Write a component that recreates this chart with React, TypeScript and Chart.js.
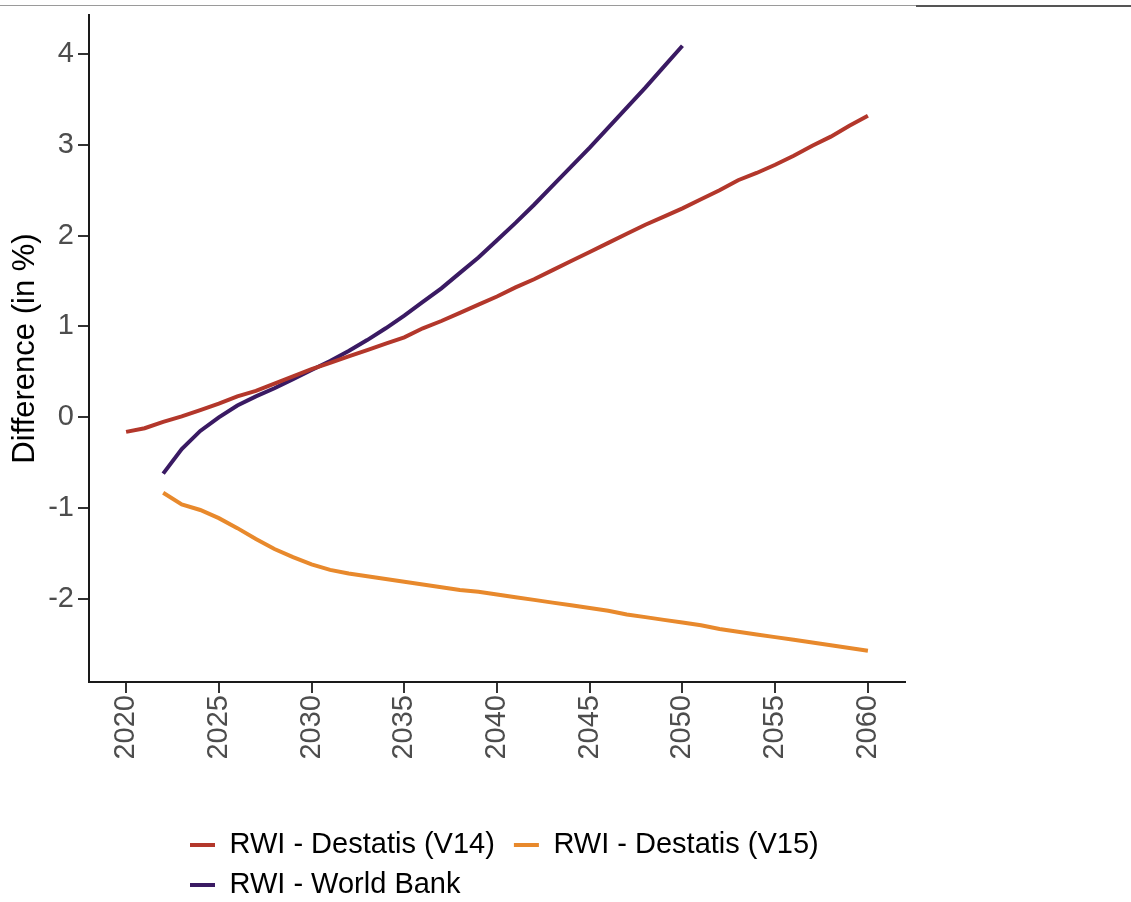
import React, { useEffect, useRef } from 'react';
import Chart from 'chart.js/auto';

const FONT = '"Liberation Sans", Arial, Helvetica, sans-serif';

const seriesLabels = ['RWI - Destatis (V14)', 'RWI - Destatis (V15)', 'RWI - World Bank'];
const seriesColors = ['#B3372B', '#E8892C', '#3A1A63'];

const yearsV14 = [2020, 2021, 2022, 2023, 2024, 2025, 2026, 2027, 2028, 2029, 2030, 2031, 2032, 2033, 2034, 2035, 2036, 2037, 2038, 2039, 2040, 2041, 2042, 2043, 2044, 2045, 2046, 2047, 2048, 2049, 2050, 2051, 2052, 2053, 2054, 2055, 2056, 2057, 2058, 2059, 2060];
const v14Values = [-0.16, -0.12, -0.05, 0.01, 0.08, 0.15, 0.23, 0.29, 0.37, 0.45, 0.53, 0.6, 0.67, 0.74, 0.81, 0.88, 0.98, 1.06, 1.15, 1.24, 1.33, 1.43, 1.52, 1.62, 1.72, 1.82, 1.92, 2.02, 2.12, 2.21, 2.3, 2.4, 2.5, 2.61, 2.69, 2.78, 2.88, 2.99, 3.09, 3.21, 3.32];

const yearsV15 = [2022, 2023, 2024, 2025, 2026, 2027, 2028, 2029, 2030, 2031, 2032, 2033, 2034, 2035, 2036, 2037, 2038, 2039, 2040, 2041, 2042, 2043, 2044, 2045, 2046, 2047, 2048, 2049, 2050, 2051, 2052, 2053, 2054, 2055, 2056, 2057, 2058, 2059, 2060];
const v15Values = [-0.83, -0.96, -1.02, -1.11, -1.22, -1.34, -1.45, -1.54, -1.62, -1.68, -1.72, -1.75, -1.78, -1.81, -1.84, -1.87, -1.9, -1.92, -1.95, -1.98, -2.01, -2.04, -2.07, -2.1, -2.13, -2.17, -2.2, -2.23, -2.26, -2.29, -2.33, -2.36, -2.39, -2.42, -2.45, -2.48, -2.51, -2.54, -2.57];

const yearsWB = [2022, 2023, 2024, 2025, 2026, 2027, 2028, 2029, 2030, 2031, 2032, 2033, 2034, 2035, 2036, 2037, 2038, 2039, 2040, 2041, 2042, 2043, 2044, 2045, 2046, 2047, 2048, 2049, 2050];
const wbValues = [-0.62, -0.35, -0.15, 0.0, 0.13, 0.23, 0.32, 0.42, 0.52, 0.62, 0.73, 0.85, 0.98, 1.12, 1.27, 1.42, 1.59, 1.76, 1.95, 2.14, 2.34, 2.55, 2.76, 2.97, 3.19, 3.41, 3.63, 3.86, 4.09];

const xTickValues = [2020, 2025, 2030, 2035, 2040, 2045, 2050, 2055, 2060];
const yTickValues = [-2, -1, 0, 1, 2, 3, 4];
const xRange = [2018, 2062];
const yRange = [-2.914, 4.429];
const yTitle = 'Difference (in %)';

const toPoints = (xs: number[], ys: number[]) => xs.map((x, i) => ({ x, y: ys[i] }));

const legendPlacer = {
  id: 'legendPlacer',
  beforeDraw(chart: any) {
    const lg = chart.legend;
    if (!lg) return;
    const ca = chart.chartArea;
    lg.left = ca.left + 90;
    lg.right = ca.right;
    lg.top = ca.bottom + 137.5;
  },
};

export default function App() {
  const ref = useRef<HTMLCanvasElement | null>(null);

  useEffect(() => {
    if (!ref.current) return;
    const seriesData = [
      toPoints(yearsV14, v14Values),
      toPoints(yearsV15, v15Values),
      toPoints(yearsWB, wbValues),
    ];
    const chart = new Chart(ref.current, {
      type: 'line',
      data: {
        datasets: seriesLabels.map((label, i) => ({
          label,
          data: seriesData[i],
          borderColor: seriesColors[i],
          backgroundColor: seriesColors[i],
          borderWidth: 4,
          pointRadius: 0,
          tension: 0,
          fill: false,
        })),
      },
      options: {
        responsive: false,
        animation: false,
        devicePixelRatio: 1,
        layout: { padding: { left: 0, top: 15, right: 226, bottom: 0 } },
        plugins: {
          tooltip: { enabled: false },
          legend: {
            display: true,
            position: 'bottom',
            align: 'start',
            fullSize: false,
            labels: {
              boxWidth: 25,
              boxHeight: 4,
              padding: 11,
              color: '#000000',
              font: { size: 29, family: FONT },
              generateLabels: (c: any) => {
                const items = (Chart as any).defaults.plugins.legend.labels.generateLabels(c);
                return items.map((it: any, i: number) => ({
                  ...it,
                  text: i === 0 ? it.text + ' ' : it.text,
                  lineWidth: 0,
                  fillStyle: seriesColors[i],
                  strokeStyle: seriesColors[i],
                }));
              },
            },
          },
        },
        scales: {
          x: {
            type: 'linear',
            position: 'bottom',
            min: xRange[0],
            max: xRange[1],
            afterBuildTicks: (s: any) => {
              s.ticks = xTickValues.map((v) => ({ value: v }));
            },
            afterFit: (s: any) => {
              s.height = 130;
              s.paddingLeft = 0;
              s.paddingRight = 0;
            },
            ticks: {
              autoSkip: false,
              minRotation: 90,
              maxRotation: 90,
              padding: 2,
              color: '#4D4D4D',
              font: { size: 29, family: FONT },
              callback: (v: any) => String(v),
            },
            grid: {
              display: true,
              drawOnChartArea: false,
              drawTicks: true,
              tickLength: 11,
              color: '#333333',
              lineWidth: 2,
            },
            border: { display: true, color: '#1A1A1A', width: 2 },
          },
          y: {
            type: 'linear',
            position: 'left',
            min: yRange[0],
            max: yRange[1],
            afterBuildTicks: (s: any) => {
              s.ticks = yTickValues.map((v) => ({ value: v }));
            },
            afterFit: (s: any) => {
              s.width = 89;
              s.paddingTop = 0;
              s.paddingBottom = 0;
            },
            ticks: {
              padding: 4,
              color: '#4D4D4D',
              font: { size: 29, family: FONT },
              callback: (v: any) => String(v),
            },
            grid: {
              display: true,
              drawOnChartArea: false,
              drawTicks: true,
              tickLength: 11,
              color: '#333333',
              lineWidth: 2,
            },
            border: { display: true, color: '#1A1A1A', width: 2 },
            title: {
              display: true,
              text: yTitle,
              color: '#000000',
              font: { size: 31, family: FONT },
              padding: { top: 7, bottom: 0 },
            },
          },
        },
      },
      plugins: [legendPlacer],
    } as any);
    return () => chart.destroy();
  }, []);

  return (
    <div style={{ position: 'absolute', left: 0, top: 0, width: 1131, height: 902, overflow: 'hidden', background: '#fff' }}>
      <div style={{ position: 'absolute', left: 0, top: 5, width: 1131, height: 1, background: '#9A9A9A' }} />
      <div style={{ position: 'absolute', left: 916, top: 5, width: 215, height: 2, background: '#555555' }} />
      <canvas ref={ref} width={1131} height={902} style={{ display: 'block' }} />
    </div>
  );
}
